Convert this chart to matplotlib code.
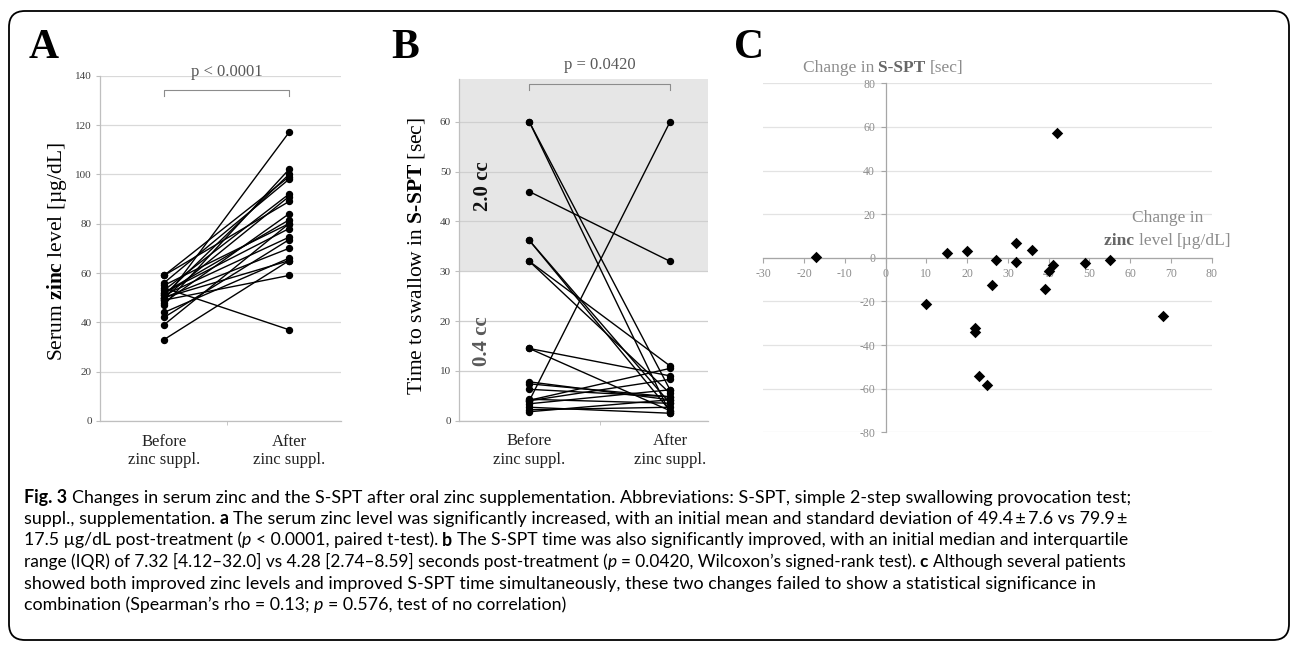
import matplotlib
matplotlib.use("Agg")
import matplotlib.pyplot as plt
from matplotlib.patches import FancyBboxPatch
from matplotlib.transforms import IdentityTransform

plt.rcParams['mathtext.fontset'] = 'custom'
plt.rcParams['mathtext.rm'] = 'Liberation Serif'
plt.rcParams['mathtext.bf'] = 'Liberation Serif:bold'
plt.rcParams['font.family'] = ['Liberation Serif', 'DejaVu Serif']
plt.rcParams['axes.unicode_minus'] = False

SERIF = ['Liberation Serif', 'DejaVu Serif']
SANS = ['Lato', 'DejaVu Sans']

# ---- data ----
cats = ['Before\nzinc suppl.', 'After\nzinc suppl.']

# panel A: serum zinc [ug/dL]
zinc_before = [54, 49, 47, 51, 59, 56, 50, 53, 48, 59, 33, 49, 50, 44, 52, 50, 55, 52, 51, 42, 39]
zinc_after = [37, 117, 102, 100, 99, 98, 91, 92, 84, 89, 65, 59, 65, 66, 78, 70, 80, 81.5, 74.5, 73.5, 80]

# panel B: S-SPT time [sec]
spt_before = [60, 60, 46, 36.2, 36.2, 32, 32, 14.5, 14.5, 7.8, 7.4, 6.3, 4.3, 2.7, 2.2, 1.8, 3.4, 4.0, 4.1, 4.0]
spt_after = [1.5, 6.2, 32, 2.0, 3.5, 5.5, 11.0, 2.0, 9.0, 4.2, 4.8, 4.8, 3.5, 1.5, 2.7, 4.2, 6.2, 8.3, 10.5, 60]

# panel C: changes
d_zinc = [-17, 10, 15, 20, 22, 22, 23, 25, 26, 27, 32, 32, 36, 39, 40, 41, 42, 49, 55, 68]
d_spt = [0.5, -21.4, 2.4, 2.9, -32.4, -33.9, -54.0, -58.4, -12.5, -1.1,
         6.6, -1.8, 3.7, -14.1, -6.0, -3.4, 57.2, -2.6, -1.1, -26.6]

caption = [
    [("Fig. 3 ", 'b'), ("Changes in serum zinc and the S-SPT after oral zinc supplementation. "
                        "Abbreviations: S-SPT, simple 2-step swallowing provocation test;", 'n')],
    [("suppl., supplementation. ", 'n'), ("a ", 'b'),
     ("The serum zinc level was significantly increased, with an initial mean and standard "
      "deviation of 49.4\u2009±\u20097.6 vs 79.9\u2009±", 'n')],
    [("17.5 µg/dL post-treatment (", 'n'), ("p ", 'i'), ("< 0.0001, paired t-test). ", 'n'), ("b ", 'b'),
     ("The S-SPT time was also significantly improved, with an initial median and interquartile", 'n')],
    [("range (IQR) of 7.32 [4.12–32.0] vs 4.28 [2.74–8.59] seconds post-treatment (", 'n'), ("p ", 'i'),
     ("= 0.0420, Wilcoxon’s signed-rank test). ", 'n'), ("c ", 'b'), ("Although several patients", 'n')],
    [("showed both improved zinc levels and improved S-SPT time simultaneously, these two changes "
      "failed to show a statistical significance in", 'n')],
    [("combination (Spearman’s rho = 0.13; ", 'n'), ("p ", 'i'), ("= 0.576, test of no correlation)", 'n')],
]
# target line widths in px (last line: natural width)
cap_widths = [1097, 1097, 1097, 1097, 1069, None]

W, H = 1292, 647
fig = plt.figure(figsize=(W / 100, H / 100), dpi=100)
renderer = fig.canvas.get_renderer()


def fx(x):
    return x / W


def fy(y):
    return 1 - y / H


STY = {'n': ('normal', 'normal'), 'b': ('bold', 'normal'), 'i': ('normal', 'italic')}


def piece_w(s, size, weight, style, family):
    t = fig.text(0, 0, 'x' + s + 'x', fontsize=size, fontweight=weight, fontstyle=style, family=family)
    w1 = t.get_window_extent(renderer).width
    t.set_text('xx')
    w0 = t.get_window_extent(renderer).width
    t.remove()
    return w1 - w0


def rich(x, y, pieces, size, family, ha='left'):
    # pieces: (text, weight, style, color); x, y in pixels from top-left, y = baseline
    ws = [piece_w(p[0], size, p[1], p[2], family) for p in pieces]
    if ha == 'center':
        x -= sum(ws) / 2
    for (s, wt, st, col), w in zip(pieces, ws):
        fig.text(fx(x), fy(y), s, fontsize=size, fontweight=wt, fontstyle=st, color=col,
                 family=family, ha='left', va='baseline')
        x += w


# rounded frame
fig.patches.append(FancyBboxPatch((9, 7), 1280, 629, boxstyle='round,pad=0,rounding_size=16',
                                  transform=IdentityTransform(), fill=False, ec='black', lw=1.3))

GRID = '#d9d9d9'
AXC = '#bfbfbf'


def paired_axes(ax, before, after, ymax, yticks):
    for b, a in zip(before, after):
        ax.plot([0, 1], [b, a], color='black', lw=1.0, marker='o', ms=4.3, zorder=3)
    ax.set_ylim(0, ymax)
    ax.set_yticks(yticks)
    ax.grid(axis='y', color=GRID, lw=0.9)
    ax.set_axisbelow(True)
    for s in ['top', 'right']:
        ax.spines[s].set_visible(False)
    for s in ['left', 'bottom']:
        ax.spines[s].set_color(AXC)
        ax.spines[s].set_linewidth(0.9)
    ax.set_xticks([0, 1], cats)
    ax.set_xticks([0.5], minor=True)
    ax.tick_params(axis='x', which='major', length=0, pad=9, labelsize=12, labelcolor='#222222')
    ax.tick_params(axis='x', which='minor', length=3, color=AXC)
    ax.tick_params(axis='y', length=3, color=AXC, labelsize=8, labelcolor='#404040', pad=3)
    for lab in ax.get_xticklabels():
        lab.set_linespacing(1.25)


# ---- panel A ----
axA = fig.add_axes([fx(100), fy(421), (341 - 100) / W, (421 - 75.7) / H])
paired_axes(axA, zinc_before, zinc_after, 140, range(0, 141, 20))
axA.set_xlim(-0.512, 1.416)
axA.plot([0, 0, 1, 1], [131.8, 134.2, 134.2, 131.8], color='#8c8c8c', lw=0.8, clip_on=False)
axA.text(0.5, 141.5, 'p < 0.0001', ha='center', va='center', fontsize=12, color='#595959')
fig.text(fx(57), fy(252), r'Serum $\mathbf{zinc}$ level [µg/dL]', rotation=90,
         ha='center', va='center', fontsize=15.5)
fig.text(fx(29), fy(58), 'A', fontsize=30, fontweight='bold', ha='left', va='baseline')

# ---- panel B ----
axB = fig.add_axes([fx(459.3), fy(420.7), 249 / W, (420.7 - 79) / H])
axB.axhspan(30, 68.6, color='#e6e6e6', zorder=0, lw=0)
paired_axes(axB, spt_before, spt_after, 68.6, range(0, 61, 10))
axB.grid(axis='y', color='#cfcfcf', lw=0.9)
axB.set_xlim(-0.4975, 1.272)
axB.plot([0, 0, 1, 1], [66.4, 67.6, 67.6, 66.4], color='#8c8c8c', lw=0.8, clip_on=False)
axB.text(0.5, 71.5, 'p = 0.0420', ha='center', va='center', fontsize=12, color='#595959')
fig.text(fx(416.7), fy(256), r'Time to swallow in $\mathbf{S}$-$\mathbf{SPT}$ [sec]', rotation=90,
         ha='center', va='center', fontsize=15.5)
fig.text(fx(483.3), fy(186), '2.0 cc', rotation=90, ha='center', va='center',
         fontsize=15, fontweight='bold', color='#111111')
fig.text(fx(481.7), fy(341), '0.4 cc', rotation=90, ha='center', va='center',
         fontsize=15, fontweight='bold', color='#595959')
fig.text(fx(391), fy(58), 'B', fontsize=30, fontweight='bold', ha='left', va='baseline')

# ---- panel C ----
axC = fig.add_axes([fx(763.3), fy(432.3), (1211.7 - 763.3) / W, (432.3 - 83.3) / H])
axC.scatter(d_zinc, d_spt, marker='D', s=34, color='black', zorder=3, lw=0)
axC.set_xlim(-30, 80)
axC.set_ylim(-80, 80)
axC.set_xticks(range(-30, 81, 10))
axC.set_yticks(range(-80, 81, 20))
axC.grid(axis='y', color='#e3e3e3', lw=0.9)
axC.set_axisbelow(True)
for s in ['top', 'right']:
    axC.spines[s].set_visible(False)
axC.spines['left'].set_position(('data', 0))
axC.spines['bottom'].set_position(('data', 0))
for s in ['left', 'bottom']:
    axC.spines[s].set_color('#a6a6a6')
    axC.spines[s].set_linewidth(0.9)
axC.tick_params(length=3.5, color='#a6a6a6', labelsize=8.5, labelcolor='#8c8c8c', pad=4)
fig.text(fx(734), fy(58), 'C', fontsize=30, fontweight='bold', ha='left', va='baseline')

GR, DG = '#8c8c8c', '#666666'
rich(802.7, 71.5, [("Change in ", 'normal', 'normal', GR), ("S-SPT ", 'bold', 'normal', DG),
                   ("[sec]", 'normal', 'normal', GR)], 12.5, SERIF)
rich(1168, 222, [("Change in", 'normal', 'normal', GR)], 12.5, SERIF, ha='center')
rich(1168, 245, [("zinc ", 'bold', 'normal', DG), ("level ", 'normal', 'normal', GR),
                 ("[µg/dL]", 'normal', 'normal', GR)], 12.5, SERIF, ha='center')

# ---- caption ----
base = 12.0
sizes = []
for line, target in zip(caption, cap_widths):
    if target is None:
        sizes.append(sum(sizes) / len(sizes))
        continue
    tot = sum(piece_w(s, base, STY[k][0], STY[k][1], SANS) for s, k in line)
    sizes.append(base * target / tot)
for i, (line, size) in enumerate(zip(caption, sizes)):
    rich(24, 502.5 + 21.5 * i, [(s, STY[k][0], STY[k][1], 'black') for s, k in line], size, SANS)

fig.savefig('out.png', dpi=100, facecolor='white')
